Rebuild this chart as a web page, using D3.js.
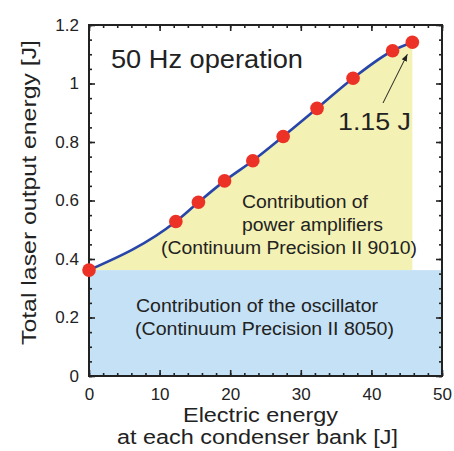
<!DOCTYPE html>
<html>
<head>
<meta charset="utf-8">
<script src="https://cdn.jsdelivr.net/npm/d3@7"></script>
<style>
    body { margin: 0; background: #fff; }
    svg text { font-family: "Liberation Sans", Arial, sans-serif; fill: #222; }
</style>
</head>
<body>
<div id="chart"></div>
<script>
(function () {
    "use strict";

    // electric energy at each condenser bank [J]
    var electricEnergy = [0, 12.3, 15.5, 19.2, 23.2, 27.5, 32.3, 37.4, 43.0, 45.8];
    // total laser output energy [J]
    var outputEnergy = [0.362, 0.528, 0.594, 0.667, 0.736, 0.819, 0.915, 1.018, 1.112, 1.141];
    var oscillatorLevel = 0.362;
    var xTicks = [0, 10, 20, 30, 40, 50];
    var yTicks = [0, 0.2, 0.4, 0.6, 0.8, 1, 1.2];
    var yTickLabels = ['0', '0.2', '0.4', '0.6', '0.8', '1', '1.2'];

    var config = {
        width: 454,
        height: 451,
        margin: { top: 25, right: 12, bottom: 75, left: 89 }
    };

    var data = electricEnergy.map(function (d, i) {
        return { x: d, y: outputEnergy[i] };
    });

    var margin = config.margin;
    var w = config.width - margin.left - margin.right;
    var h = config.height - margin.top - margin.bottom;

    var svg = d3.select('#chart').append('svg')
        .attr('width', config.width)
        .attr('height', config.height);

    var g = svg.append('g')
        .attr('transform', 'translate(' + margin.left + ',' + margin.top + ')');

    var x = d3.scaleLinear().domain([0, 50]).range([0, w]);
    var y = d3.scaleLinear().domain([0, 1.2]).range([h, 0]);

    // oscillator band
    g.append('rect')
        .attr('x', x(0)).attr('y', y(oscillatorLevel))
        .attr('width', x(50) - x(0))
        .attr('height', y(0) - y(oscillatorLevel))
        .attr('fill', '#c5e1f5');

    var curve = d3.curveMonotoneX;

    // amplifier area
    g.append('path')
        .datum(data)
        .attr('fill', '#f3f1b3')
        .attr('d', d3.area()
            .x(function (d) { return x(d.x); })
            .y0(y(oscillatorLevel))
            .y1(function (d) { return y(d.y); })
            .curve(curve));

    // axes: inward ticks on all four sides
    var axisColor = '#222';
    function tickSet(step, max) {
        return d3.range(0, max + step / 2, step);
    }
    var xMinor = tickSet(2, 50);
    var yMinor = tickSet(0.05, 1.2);

    g.append('g').attr('transform', 'translate(0,' + h + ')')
        .call(d3.axisBottom(x).tickValues(xMinor).tickSize(-3).tickFormat(''));
    g.append('g').attr('transform', 'translate(0,' + h + ')')
        .call(d3.axisBottom(x).tickValues(xTicks).tickSize(-6).tickPadding(12).tickFormat(d3.format('d')))
        .attr('class', 'x axis');
    g.append('g')
        .call(d3.axisTop(x).tickValues(xMinor).tickSize(-3).tickFormat(''));
    g.append('g')
        .call(d3.axisTop(x).tickValues(xTicks).tickSize(-6).tickFormat(''));

    g.append('g')
        .call(d3.axisLeft(y).tickValues(yMinor).tickSize(-3).tickFormat(''));
    g.append('g')
        .call(d3.axisLeft(y).tickValues(yTicks).tickSize(-6).tickPadding(10)
            .tickFormat(function (d, i) { return yTickLabels[i]; }))
        .attr('class', 'y axis');
    g.append('g').attr('transform', 'translate(' + w + ',0)')
        .call(d3.axisRight(y).tickValues(yMinor).tickSize(-3).tickFormat(''));
    g.append('g').attr('transform', 'translate(' + w + ',0)')
        .call(d3.axisRight(y).tickValues(yTicks).tickSize(-6).tickFormat(''));

    g.selectAll('.domain').remove();
    g.selectAll('.tick line').attr('stroke', axisColor).attr('stroke-width', 1.6);
    g.selectAll('.tick text').style('font-size', '17px').attr('fill', '#222');

    g.append('rect')
        .attr('width', w).attr('height', h)
        .attr('fill', 'none')
        .attr('stroke', axisColor)
        .attr('stroke-width', 2);

    // fitted line
    g.append('path')
        .datum(data)
        .attr('fill', 'none')
        .attr('stroke', '#2846aa')
        .attr('stroke-width', 2.6)
        .attr('d', d3.line()
            .x(function (d) { return x(d.x); })
            .y(function (d) { return y(d.y); })
            .curve(curve));

    g.selectAll('.pt')
        .data(data)
        .enter().append('circle')
        .attr('class', 'pt')
        .attr('cx', function (d) { return x(d.x); })
        .attr('cy', function (d) { return y(d.y); })
        .attr('r', 6.8)
        .attr('fill', '#ec3226');

    // text helper: the original lettering is a little wider than Liberation Sans
    function label(parent, t, px, py, size, len) {
        return parent.append('text')
            .attr('x', px).attr('y', py)
            .style('font-size', size + 'px')
            .attr('textLength', len)
            .attr('lengthAdjust', 'spacingAndGlyphs')
            .text(t);
    }

    // annotations (svg coordinates)
    label(svg, '50 Hz operation', 111, 68, 25, 192);
    label(svg, '1.15 J', 338, 130, 24, 73);

    svg.append('defs').append('marker')
        .attr('id', 'arrow')
        .attr('viewBox', '0 0 10 10')
        .attr('refX', 10).attr('refY', 5)
        .attr('markerWidth', 7).attr('markerHeight', 7)
        .attr('orient', 'auto')
        .append('path')
        .attr('d', 'M0,1 L10,5 L0,9 Z')
        .attr('fill', '#222');

    var last = data[data.length - 1];
    g.append('line')
        .attr('x1', 294).attr('y1', 78)
        .attr('x2', x(last.x) - 5).attr('y2', y(last.y) + 12)
        .attr('stroke', '#222')
        .attr('stroke-width', 1)
        .attr('marker-end', 'url(#arrow)');

    label(svg, 'Contribution of', 242, 208, 18, 126);
    label(svg, 'power amplifiers', 242, 231, 18, 141);
    label(svg, '(Continuum Precision II 9010)', 161, 254, 18, 256);

    label(svg, 'Contribution of the oscillator', 136, 312, 18, 242);
    label(svg, '(Continuum Precision II 8050)', 135, 335, 18, 259);

    // axis titles
    label(svg, 'Electric energy', 183, 422, 20, 155);
    label(svg, 'at each condenser bank [J]', 117, 444, 20, 281);
    svg.append('text')
        .attr('transform', 'translate(36,345) rotate(-90)')
        .style('font-size', '20px')
        .attr('textLength', 305)
        .attr('lengthAdjust', 'spacingAndGlyphs')
        .text('Total laser output energy [J]');
})();
</script>
</body>
</html>
